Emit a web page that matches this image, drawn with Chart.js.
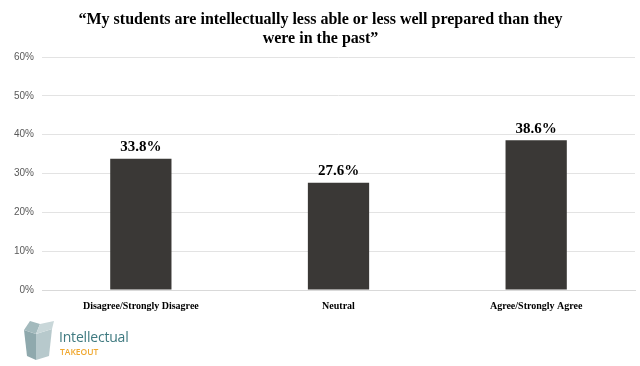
<!DOCTYPE html>
<html>
<head>
<meta charset="utf-8">
<script src="https://cdn.jsdelivr.net/npm/chart.js@4"></script>
<style>
  html,body{margin:0;padding:0;background:#fff;}
  #wrap{position:relative;width:640px;height:366px;}
  #c{position:absolute;left:0;top:0;}
  #logo{position:absolute;left:18px;top:318px;width:130px;height:45px;}
  #logo .t1{position:absolute;left:41px;top:9px;font-family:"Open Sans","Noto Sans",sans-serif;font-size:14px;color:#3f7a80;letter-spacing:-0.2px;}
  #logo .t2{position:absolute;left:42px;top:28px;font-family:"Open Sans","Noto Sans",sans-serif;font-size:8.5px;color:#f0a830;font-weight:600;}
</style>
</head>
<body>
<div id="wrap">
<canvas id="c" width="640" height="366"></canvas>
<div id="logo">
  <svg width="40" height="45" viewBox="0 0 40 45" style="position:absolute;left:0;top:0">
    <polygon points="6,12 18,16 18,42 9,38" fill="#8fa9ad"/>
    <polygon points="18,16 34,11 31,38 18,42" fill="#b7c9cc"/>
    <polygon points="6,12 12,3 22,6 18,16" fill="#a3babd"/>
    <polygon points="18,16 22,6 36,3 34,11" fill="#c9d7d9"/>
  </svg>
  <span class="t1">Intellectual</span>
  <span class="t2">TAKEOUT</span>
</div>
</div>
<script>
const categories = ["Disagree/Strongly Disagree", "Neutral", "Agree/Strongly Agree"];
const values = [33.8, 27.6, 38.6];
const titleLines = ["\u201cMy students are intellectually less able or less well prepared than they", "were in the past\u201d"];

const valueLabels = {
  id: 'valueLabels',
  afterDatasetsDraw(chart) {
    const ctx = chart.ctx;
    const meta = chart.getDatasetMeta(0);
    ctx.save();
    ctx.font = 'bold 15px "Liberation Serif", "Times New Roman", serif';
    ctx.fillStyle = '#000';
    ctx.textAlign = 'center';
    ctx.textBaseline = 'bottom';
    meta.data.forEach((bar, i) => {
      ctx.fillText(values[i].toFixed(1) + '%', bar.x, bar.y - 4);
    });
    ctx.restore();
  }
};

new Chart(document.getElementById('c'), {
  type: 'bar',
  data: {
    labels: categories,
    datasets: [{
      data: values,
      backgroundColor: '#3a3836',
      borderWidth: 0,
      barPercentage: 0.31,
      categoryPercentage: 1
    }]
  },
  options: {
    responsive: false,
    animation: false,
    layout: { padding: { left: 6, right: 5, top: 0, bottom: 52 } },
    plugins: {
      legend: { display: false },
      tooltip: { enabled: false },
      title: {
        display: true,
        text: titleLines,
        color: '#000',
        font: { family: '"Liberation Serif", "Times New Roman", serif', size: 16, weight: 'bold', lineHeight: 1.22 },
        padding: { top: 10, bottom: 8 }
      }
    },
    scales: {
      x: {
        grid: { display: false },
        border: { color: '#d9d9d9', width: 1 },
        ticks: {
          color: '#000',
          font: { family: '"Liberation Serif", "Times New Roman", serif', size: 10, weight: 'bold' },
          maxRotation: 0,
          padding: 2
        }
      },
      y: {
        min: 0, max: 60,
        ticks: {
          stepSize: 10,
          color: '#595959',
          font: { family: '"Liberation Sans Narrow", "Liberation Sans", sans-serif', size: 10 },
          callback: v => v + '%',
          padding: 8
        },
        grid: { color: '#e3e3e3', drawTicks: false },
        border: { display: false }
      }
    }
  },
  plugins: [valueLabels]
});
</script>
</body>
</html>
